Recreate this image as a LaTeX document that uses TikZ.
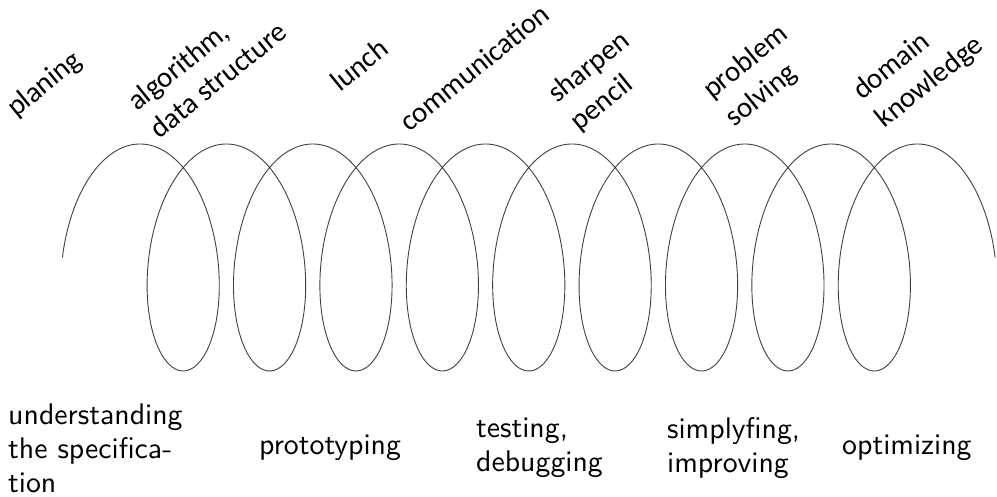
\documentclass[tikz,border=0pt]{standalone}
\usepackage{fontspec}
\newfontfamily\labelfont{Carlito}
\newfontfamily\phasefont{lmsans10-regular.otf}
\usetikzlibrary{calc}
\tikzset{
  toplabel/.style={font=\labelfont\fontsize{29}{35}\selectfont, anchor=base west,
    rotate=39, inner sep=0pt, text=black},
  bottomlabel/.style={font=\phasefont\fontsize{29.8}{34}\selectfont, anchor=west,
    align=left, inner sep=0pt, text=black},
  coil/.style={line width=0.9pt, black!75}
}
\begin{document}
\begin{tikzpicture}[x=1pt,y=1pt]
  \useasboundingbox (0,0) rectangle (997,497);
  % the coil: a prolate trochoid with nine loops
  \draw[coil] plot[domain=-90:3330, samples=900, smooth, variable=\t]
    ({140+0.23998*\t+56*sin(\t)}, {239.5+113.5*cos(\t)});

  % activities written above the coil
  \node[toplabel] (plan) at (16,379) {planing};
  \node[toplabel] (algA) at (137,385) {algorithm,};
  \node[toplabel] (algB) at ($(algA.base west)+(-51:36)$) {data structure};
  \node[toplabel] (lunch) at (340,404) {lunch};
  \node[toplabel] (comm) at (409,364) {communication};
  \node[toplabel] (sharpA) at (557,393) {sharpen};
  \node[toplabel] (sharpB) at ($(sharpA.base west)+(-51:36)$) {pencil};
  \node[toplabel] (probA) at (712,397) {problem};
  \node[toplabel] (probB) at ($(probA.base west)+(-51:36)$) {solving};
  \node[toplabel] (domA) at (862,396) {domain};
  \node[toplabel] (domB) at ($(domA.base west)+(-51:36)$) {knowledge};

  % phases written below the coil
  \node[bottomlabel] (spec) at (8,49) {understanding\\the specifica-\\tion};
  \node[bottomlabel] (proto) at (259,49) {prototyping};
  \node[bottomlabel] (test) at (476,49) {testing,\\debugging};
  \node[bottomlabel] (simp) at (667,49) {simplyfing,\\improving};
  \node[bottomlabel] (opt) at (842,49) {optimizing};
\end{tikzpicture}
\end{document}
